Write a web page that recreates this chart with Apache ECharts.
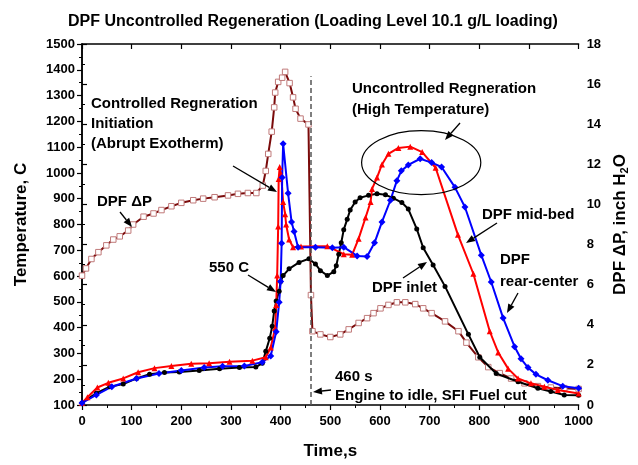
<!DOCTYPE html>
<html>
<head>
<meta charset="utf-8">
<script src="https://cdn.jsdelivr.net/npm/echarts@6/dist/echarts.min.js"></script>
<style>html,body{margin:0;padding:0;background:#fff;}#c{width:638px;height:465px;}</style>
</head>
<body>
<div id="c"></div>
<script>
// ---- data: [time s, value] ----
const inletT = [[0,108],[29,146],[56,171],[83,181],[110,203],[136,219],[166,226],[196,228],[236,234],[277,241],[317,245],[350,247],[363,262],[370,308],[378,359],[383,405],[387,465],[391,503],[397,541],[400,579],[405,602],[417,628],[437,653],[457,667],[470,647],[480,621],[494,602],[507,617],[512,640],[517,685],[522,729],[527,780],[534,820],[540,856],[550,887],[560,904],[577,913],[594,919],[611,915],[627,902],[644,885],[657,860],[674,783],[687,710],[707,643],[731,560],[778,374],[801,285],[834,222],[878,190],[918,165],[944,152],[971,139],[1000,138]];
const midbedT = [[0,108],[11,130],[31,168],[53,186],[83,203],[113,227],[146,243],[180,251],[220,260],[256,262],[297,268],[343,272],[370,285],[380,323],[389,399],[391,488],[393,602],[395,792],[396,976],[398,1023],[401,995],[405,887],[409,840],[411,800],[417,742],[425,712],[441,715],[494,716],[527,685],[544,683],[557,745],[571,827],[581,887],[584,938],[594,982],[604,1033],[617,1074],[637,1097],[661,1102],[685,1081],[712,1020],[757,760],[788,609],[821,386],[838,304],[858,241],[878,203],[904,184],[931,171],[958,158],[1000,145]];
const rearT = [[0,108],[29,139],[60,171],[110,203],[155,222],[200,234],[246,245],[283,250],[327,251],[363,266],[380,290],[391,384],[397,498],[400,579],[402,727],[403,982],[405,1113],[415,921],[422,810],[427,773],[435,712],[470,712],[504,710],[527,712],[554,678],[574,676],[589,729],[604,810],[621,894],[634,970],[643,1008],[657,1031],[681,1055],[704,1040],[724,1023],[751,944],[771,868],[804,681],[824,577],[848,437],[871,326],[884,279],[898,245],[914,219],[938,196],[968,173],[1000,165]];
const deltaP = [[0,6.45],[8,6.81],[19,7.28],[33,7.62],[49,7.96],[63,8.25],[76,8.41],[93,8.70],[103,9.0],[124,9.39],[144,9.55],[160,9.72],[180,9.91],[200,10.08],[224,10.21],[244,10.29],[267,10.36],[294,10.45],[314,10.53],[334,10.57],[351,10.57],[364,10.94],[370,11.67],[375,12.52],[382,13.63],[387,14.84],[389,15.58],[395,16.11],[403,16.32],[409,16.61],[418,16.05],[425,15.34],[430,14.77],[440,14.28],[456,13.99],[461,5.48],[464,3.68],[480,3.52],[500,3.39],[520,3.52],[537,3.77],[557,4.09],[574,4.33],[587,4.58],[601,4.82],[617,4.99],[634,5.12],[651,5.12],[671,5.03],[687,4.82],[704,4.58],[731,4.17],[758,3.68],[774,3.11],[798,2.38],[818,1.89],[841,1.59],[864,1.32],[891,1.08],[918,0.94],[944,0.87],[971,0.84],[1000,0.80]];
const fuelCutTime = 460;

const FONT = '"Liberation Sans", Arial, sans-serif';
const chart = echarts.init(document.getElementById('c'));

const plain = v => String(v);
const axisCommon = {
  axisLine: {show: true, lineStyle: {color: '#000', width: 1.5}},
  axisTick: {show: true, length: 5, lineStyle: {color: '#000', width: 1.2}},
  minorTick: {show: true, splitNumber: 2, length: 3, lineStyle: {color: '#000', width: 1}},
  splitLine: {show: false},
  axisLabel: {color: '#000', fontFamily: FONT, fontWeight: 'bold', fontSize: 13, formatter: plain}
};

function lineSeries(name, data, color, symbol, size, extra) {
  return Object.assign({
    name, type: 'line', data, symbol, symbolSize: size,
    showSymbol: true, animation: false,
    lineStyle: {color, width: 2},
    itemStyle: {color, borderColor: color, borderWidth: 0},
    z: 3
  }, extra || {});
}

chart.setOption({
  animation: false,
  title: {
    text: 'DPF Uncontrolled Regeneration (Loading Level 10.1 g/L loading)',
    left: 63, top: 9,
    textStyle: {fontFamily: FONT, fontWeight: 'bold', fontSize: 16, color: '#000'}
  },
  grid: {left: 82, right: 57, top: 44, bottom: 53},
  xAxis: [
    Object.assign({}, axisCommon, {
      type: 'value', min: 0, max: 1000, interval: 100, position: 'bottom',
      name: 'Time,s', nameLocation: 'middle', nameGap: 38,
      nameTextStyle: {fontFamily: FONT, fontWeight: 'bold', fontSize: 17, color: '#000'},
      axisLabel: Object.assign({}, axisCommon.axisLabel, {margin: 10})
    }),
    Object.assign({}, axisCommon, {
      type: 'value', min: 0, max: 1000, interval: 100, position: 'top',
      axisTick: {show: true, inside: true, length: 5, lineStyle: {color: '#000', width: 1.2}},
      minorTick: {show: false},
      axisLabel: {show: false}
    })
  ],
  yAxis: [
    Object.assign({}, axisCommon, {
      type: 'value', min: 100, max: 1500, interval: 100, position: 'left',
      name: 'Temperature, C', nameLocation: 'middle', nameGap: 52, nameRotate: 90,
      nameTextStyle: {fontFamily: FONT, fontWeight: 'bold', fontSize: 17, color: '#000'},
      axisLabel: Object.assign({}, axisCommon.axisLabel, {margin: 7})
    }),
    Object.assign({}, axisCommon, {
      type: 'value', min: 0, max: 18, interval: 2, position: 'right',
      name: '{a|DPF ΔP, inch H}{s|2}{a|O}', nameLocation: 'middle', nameGap: 32, nameRotate: 90,
      nameTextStyle: {
        fontFamily: FONT, fontWeight: 'bold', fontSize: 17, color: '#000',
        rich: {
          a: {fontFamily: FONT, fontWeight: 'bold', fontSize: 17, color: '#000'},
          s: {fontFamily: FONT, fontWeight: 'bold', fontSize: 11, color: '#000', padding: [8, 0, 0, 0]}
        }
      },
      axisLabel: Object.assign({}, axisCommon.axisLabel, {margin: 8})
    })
  ],
  series: [
    lineSeries('DPF ΔP', deltaP, '#7a0a0a', 'rect', 5.5, {
      yAxisIndex: 1,
      itemStyle: {color: '#fff', borderColor: '#c07a7a', borderWidth: 1},
      lineStyle: {color: '#7a0a0a', width: 2}, z: 2
    }),
    lineSeries('DPF inlet', inletT, '#000000', 'circle', 5, {
      markLine: {
        silent: true, symbol: ['none', 'none'], animation: false,
        label: {show: false},
        lineStyle: {color: '#555', type: [5, 3], width: 1.5},
        data: [[{coord: [fuelCutTime, 100]}, {coord: [fuelCutTime, 1375]}]]
      }
    }),
    lineSeries('DPF mid-bed', midbedT, '#ff0000', 'triangle', 6),
    lineSeries('DPF rear-center', rearT, '#0000ff', 'diamond', 7)
  ]
});

// ---- annotations ----
function arrow(x1, y1, x2, y2) {
  const ang = Math.atan2(y2 - y1, x2 - x1);
  const L = 9, W = 3.5;
  const bx = x2 - L * Math.cos(ang), by = y2 - L * Math.sin(ang);
  const px = -Math.sin(ang) * W, py = Math.cos(ang) * W;
  return [
    {type: 'line', shape: {x1, y1, x2: bx, y2: by}, style: {stroke: '#000', lineWidth: 1.3}, z: 10},
    {type: 'polygon', shape: {points: [[x2, y2], [bx + px, by + py], [bx - px, by - py]]}, style: {fill: '#000'}, z: 10}
  ];
}
function label(text, x, y, lh) {
  return {type: 'text', x, y, z: 10, style: {text, fill: '#000', font: 'bold 15px ' + FONT, lineHeight: lh || 20, textVerticalAlign: 'middle'}};
}
const c = chart.convertToPixel({xAxisIndex: 0, yAxisIndex: 0}, [683, 1040]);
const e1 = chart.convertToPixel({xAxisIndex: 0, yAxisIndex: 0}, [683 + 120, 1040 - 124]);
const g = [
  {type: 'ellipse', shape: {cx: c[0], cy: c[1], rx: e1[0] - c[0], ry: e1[1] - c[1]}, style: {fill: 'none', stroke: '#000', lineWidth: 1.2}, z: 10},
  label('Controlled Regneration\nInitiation\n(Abrupt Exotherm)', 91, 124),
  label('DPF ΔP', 97, 202),
  label('550 C', 209, 268),
  label('Uncontrolled Regneration\n(High Temperature)', 352, 99, 21),
  label('DPF mid-bed', 482, 215),
  label('DPF inlet', 372, 288),
  label('DPF\nrear-center', 500, 271, 22),
  label('460 s\nEngine to idle, SFI Fuel cut', 335, 386, 19)
].concat(
  arrow(233, 166, 277, 192),
  arrow(120, 212, 132, 227),
  arrow(248, 275, 276, 292),
  arrow(460, 123, 445, 140),
  arrow(497, 223, 466, 243),
  arrow(403, 278, 427, 262),
  arrow(518, 293, 507, 313),
  arrow(331, 390, 313, 392)
);
chart.setOption({graphic: g});
</script>
</body>
</html>
